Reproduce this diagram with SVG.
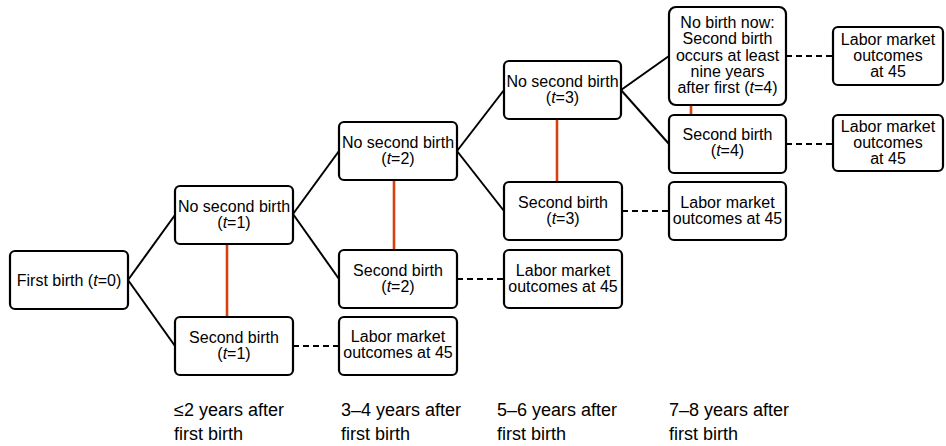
<svg xmlns="http://www.w3.org/2000/svg" width="946" height="446" viewBox="0 0 946 446">
<style>
.box{fill:#fff;stroke:#000;stroke-width:2.2}
.t{font-family:"Liberation Sans",Arial,sans-serif;font-size:16px;fill:#000;text-anchor:middle}
.i{font-style:italic}
.lab{font-family:"Liberation Sans",Arial,sans-serif;font-size:18px;fill:#000}
.ln{stroke:#000;stroke-width:2;fill:none}
.red{stroke:#d9400f;stroke-width:2.6;fill:none}
.dash{stroke:#000;stroke-width:2;stroke-dasharray:6 4;fill:none}
</style>
<rect width="946" height="446" fill="#fff"/>
<g id="connectors">
<line class="ln" x1="128" y1="280" x2="175" y2="215"/>
<line class="ln" x1="128" y1="280" x2="175" y2="346"/>
<line class="ln" x1="293" y1="214" x2="339" y2="151"/>
<line class="ln" x1="293" y1="214" x2="339" y2="279"/>
<line class="ln" x1="457" y1="151" x2="504" y2="90"/>
<line class="ln" x1="457" y1="151" x2="504" y2="211"/>
<line class="ln" x1="621" y1="90" x2="669" y2="56"/>
<line class="ln" x1="621" y1="90" x2="669" y2="144"/>
<line class="red" x1="227" y1="245" x2="227" y2="317"/>
<line class="red" x1="394" y1="180" x2="394" y2="250"/>
<line class="red" x1="557" y1="119" x2="557" y2="182"/>
<line class="red" x1="691" y1="105" x2="691" y2="115"/>
<line class="dash" x1="293" y1="346" x2="339" y2="346"/>
<line class="dash" x1="457" y1="279" x2="504" y2="279"/>
<line class="dash" x1="622" y1="211" x2="669" y2="211"/>
<line class="dash" x1="786" y1="56" x2="833" y2="56"/>
<line class="dash" x1="786" y1="144" x2="833" y2="144"/>
</g>
<g id="n0"><rect class="box" x="10" y="251" width="118" height="58" rx="5"/><text class="t" x="69" y="286">First birth (<tspan class="i">t</tspan>=0)</text></g>
<g id="n1"><rect class="box" x="175" y="186" width="118" height="58" rx="5"/><text class="t" x="234" y="212">No second birth</text><text class="t" x="234" y="228">(<tspan class="i">t</tspan>=1)</text></g>
<g id="s1"><rect class="box" x="175" y="317" width="118" height="58" rx="5"/><text class="t" x="234" y="343">Second birth</text><text class="t" x="234" y="359">(<tspan class="i">t</tspan>=1)</text></g>
<g id="l1"><rect class="box" x="339" y="317" width="118" height="58" rx="5"/><text class="t" x="398" y="342">Labor market</text><text class="t" x="398" y="358">outcomes at 45</text></g>
<g id="n2"><rect class="box" x="339" y="122" width="118" height="58" rx="5"/><text class="t" x="398" y="148">No second birth</text><text class="t" x="398" y="164">(<tspan class="i">t</tspan>=2)</text></g>
<g id="s2"><rect class="box" x="339" y="250" width="118" height="58" rx="5"/><text class="t" x="398" y="276">Second birth</text><text class="t" x="398" y="292">(<tspan class="i">t</tspan>=2)</text></g>
<g id="l2"><rect class="box" x="504" y="250" width="118" height="58" rx="5"/><text class="t" x="563" y="276">Labor market</text><text class="t" x="563" y="292">outcomes at 45</text></g>
<g id="n3"><rect class="box" x="504" y="61" width="117" height="58" rx="5"/><text class="t" x="562.5" y="87">No second birth</text><text class="t" x="562.5" y="103">(<tspan class="i">t</tspan>=3)</text></g>
<g id="s3"><rect class="box" x="504" y="182" width="118" height="58" rx="5"/><text class="t" x="563" y="208">Second birth</text><text class="t" x="563" y="224">(<tspan class="i">t</tspan>=3)</text></g>
<g id="l3"><rect class="box" x="669" y="182" width="117" height="58" rx="5"/><text class="t" x="727.5" y="208">Labor market</text><text class="t" x="727.5" y="224">outcomes at 45</text></g>
<g id="n4"><rect class="box" x="669" y="7" width="117" height="98" rx="7"/><text class="t" x="727.5" y="28">No birth now:</text><text class="t" x="727.5" y="44">Second birth</text><text class="t" x="727.5" y="60.5">occurs at least</text><text class="t" x="727.5" y="76.5">nine years</text><text class="t" x="727.5" y="93">after first (<tspan class="i">t</tspan>=4)</text></g>
<g id="s4"><rect class="box" x="669" y="115" width="117" height="58" rx="5"/><text class="t" x="727.5" y="140">Second birth</text><text class="t" x="727.5" y="156">(<tspan class="i">t</tspan>=4)</text></g>
<g id="l4a"><rect class="box" x="833" y="27" width="110" height="58" rx="5"/><text class="t" x="888" y="45">Labor market</text><text class="t" x="888" y="61">outcomes</text><text class="t" x="888" y="77">at 45</text></g>
<g id="l4b"><rect class="box" x="833" y="115" width="110" height="56" rx="5"/><text class="t" x="888" y="132">Labor market</text><text class="t" x="888" y="148">outcomes</text><text class="t" x="888" y="164">at 45</text></g>
<g id="axis-labels">
<text class="lab" x="174" y="416">≤2 years after</text><text class="lab" x="174" y="440">first birth</text>
<text class="lab" x="341" y="416">3–4 years after</text><text class="lab" x="341" y="440">first birth</text>
<text class="lab" x="497" y="416">5–6 years after</text><text class="lab" x="497" y="440">first birth</text>
<text class="lab" x="669" y="416">7–8 years after</text><text class="lab" x="669" y="440">first birth</text>
</g>
</svg>
